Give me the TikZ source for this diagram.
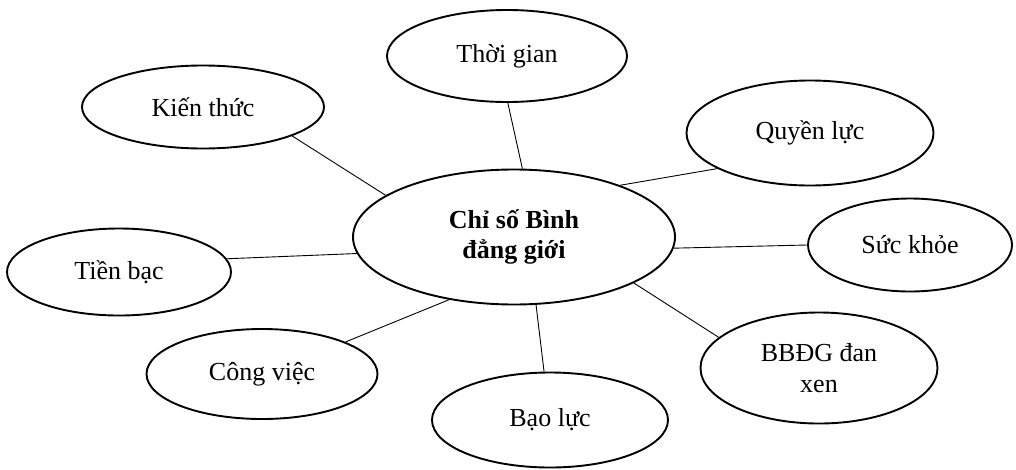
\documentclass[tikz,border=0pt]{standalone}
\usepackage{fontspec}
\setmainfont{Liberation Serif}
\usetikzlibrary{shapes.geometric}
\begin{document}
\begin{tikzpicture}[x=1pt,y=-1pt,
  bubble/.style={ellipse,draw,line width=1.9pt,inner sep=0pt,align=center,font=\fontsize{26}{31}\selectfont},
  link/.style={draw,line width=0.9pt}]
\useasboundingbox (0,0) rectangle (1016,469);
\node[bubble,minimum width=322pt,minimum height=135pt,font=\fontsize{26}{30}\selectfont\bfseries] (C) at (514,237) {Chỉ số Bình\\đẳng giới};
\node[bubble,minimum width=240pt,minimum height=92pt] (T) at (507,56) {Thời gian};
\node[bubble,minimum width=242pt,minimum height=83pt] (K) at (203,107) {Kiến thức};
\node[bubble,minimum width=247pt,minimum height=105pt] (Q) at (810,133) {Quyền lực};
\node[bubble,minimum width=204pt,minimum height=93pt] (S) at (910,245) {Sức khỏe};
\node[bubble,minimum width=224pt,minimum height=87pt] (M) at (119,272) {Tiền bạc};
\node[bubble,minimum width=231pt,minimum height=90pt] (V) at (262,374) {Công việc};
\node[bubble,minimum width=236pt,minimum height=95pt] (L) at (550,420) {Bạo lực};
\node[bubble,minimum width=237pt,minimum height=111pt] (B) at (819,368) {BBĐG đan\\xen};
\draw[link] (K.-18.6) -- (C.162.9);
\draw[link] (T.-89) -- (C.83.6);
\draw[link] (Q.201.5) -- (C.26.6);
\draw[link] (S.180) -- (C.-4);
\draw[link] (B.163) -- (C.-21.6);
\draw[link] (L.97) -- (C.-72);
\draw[link] (V.21.2) -- (C.224);
\draw[link] (M.7) -- (C.186);
\end{tikzpicture}
\end{document}
